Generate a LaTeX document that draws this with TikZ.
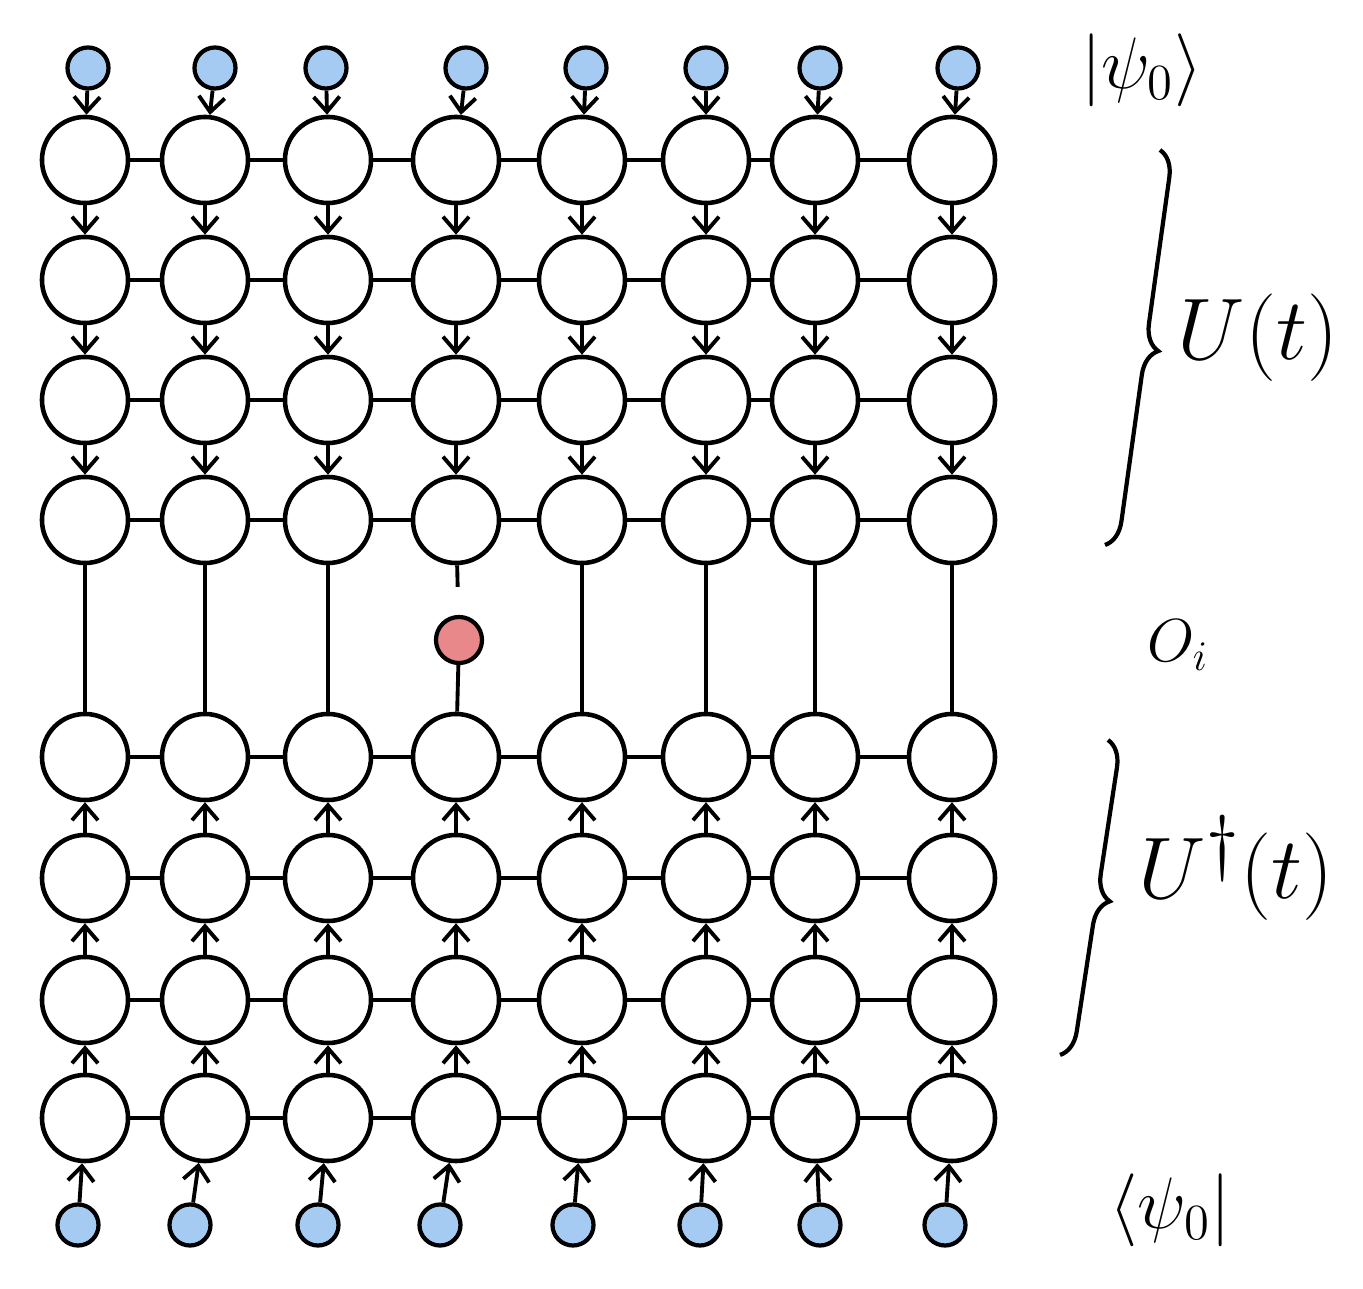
\documentclass[tikz,border=0pt]{standalone}
\usepackage{tikz}
\usetikzlibrary{arrows.meta, decorations.pathreplacing}

\definecolor{qblue}{RGB}{166,203,242}
\definecolor{qred}{RGB}{233,136,138}

\begin{document}
\begin{tikzpicture}[
  x=0.01cm, y=-0.01cm,
  site/.style  = {circle, draw, line width=1.3pt, minimum size=8.6mm, inner sep=0pt},
  qin/.style   = {circle, draw, line width=1.2pt, fill=qblue, minimum size=4.1mm, inner sep=0pt},
  probe/.style = {circle, draw, line width=1.2pt, fill=qred, minimum size=4.6mm, inner sep=0pt},
  link/.style  = {line width=1.1pt},
  evo/.style   = {-{Straight Barb[length=1.5mm, width=2.6mm]}, line width=1.1pt},
  curly/.style = {decorate, decoration={brace, amplitude=2.6mm}, line width=1.2pt},
  lbl/.style   = {inner sep=1pt},
]
\useasboundingbox (0,0) rectangle (1363,1289);

% --- nodes ---------------------------------------------------------------
\foreach \y [count=\r] in {160,280,400,520,757,878,1000,1118}
  \foreach \x [count=\c] in {85,205,328,456,582,706,815,952}
    \node[site] (s\r-\c) at (\x,\y) {};

\foreach \x [count=\c] in {88,215,326,466,586,706,820,958}
  \node[qin] (tin\c) at (\x,68) {};
\foreach \x [count=\c] in {78,190,318,440,573,700,820,945}
  \node[qin] (bin\c) at (\x,1225) {};

\node[probe] (obs) at (459,640) {};

% --- labels --------------------------------------------------------------
\node[lbl, font=\huge] (ket) at (1142,70) {$|\psi_0\rangle$};
\node[lbl, font=\LARGE] (op) at (1178,645) {$O_i$};
\node[lbl, font=\huge] (bra) at (1170,1210) {$\langle\psi_0|$};
\node[lbl, font=\Huge] (fwd) at (1258,338) {$U(t)$};
\node[lbl, font=\Huge] (bwd) at (1236,868) {$U^\dagger(t)$};

% --- braces --------------------------------------------------------------
\draw[curly] (1160,150) -- (1105,545);
\draw[curly] (1108,740) -- (1060,1055);

% --- couplings -----------------------------------------------------------
\foreach \r in {1,...,8}
  \foreach \c [count=\n from 2] in {1,...,7}
    \draw[link] (s\r-\c) -- (s\r-\n);

% --- forward evolution ---------------------------------------------------
\foreach \c in {1,...,8} {
  \draw[evo] (tin\c) -- (s1-\c);
  \foreach \r [count=\n from 2] in {1,2,3}
    \draw[evo] (s\r-\c) -- (s\n-\c);
}

% --- backward evolution --------------------------------------------------
\foreach \c in {1,...,8} {
  \draw[evo] (bin\c) -- (s8-\c);
  \foreach \r [count=\n from 5] in {6,7,8}
    \draw[evo] (s\r-\c) -- (s\n-\c);
}

% --- middle --------------------------------------------------------------
\foreach \c in {1,2,3,5,6,7,8}
  \draw[link] (s4-\c) -- (s5-\c);
\draw[link, shorten >=2.8mm] (s4-4) -- (obs);
\draw[link] (obs) -- (s5-4);

\end{tikzpicture}
\end{document}
